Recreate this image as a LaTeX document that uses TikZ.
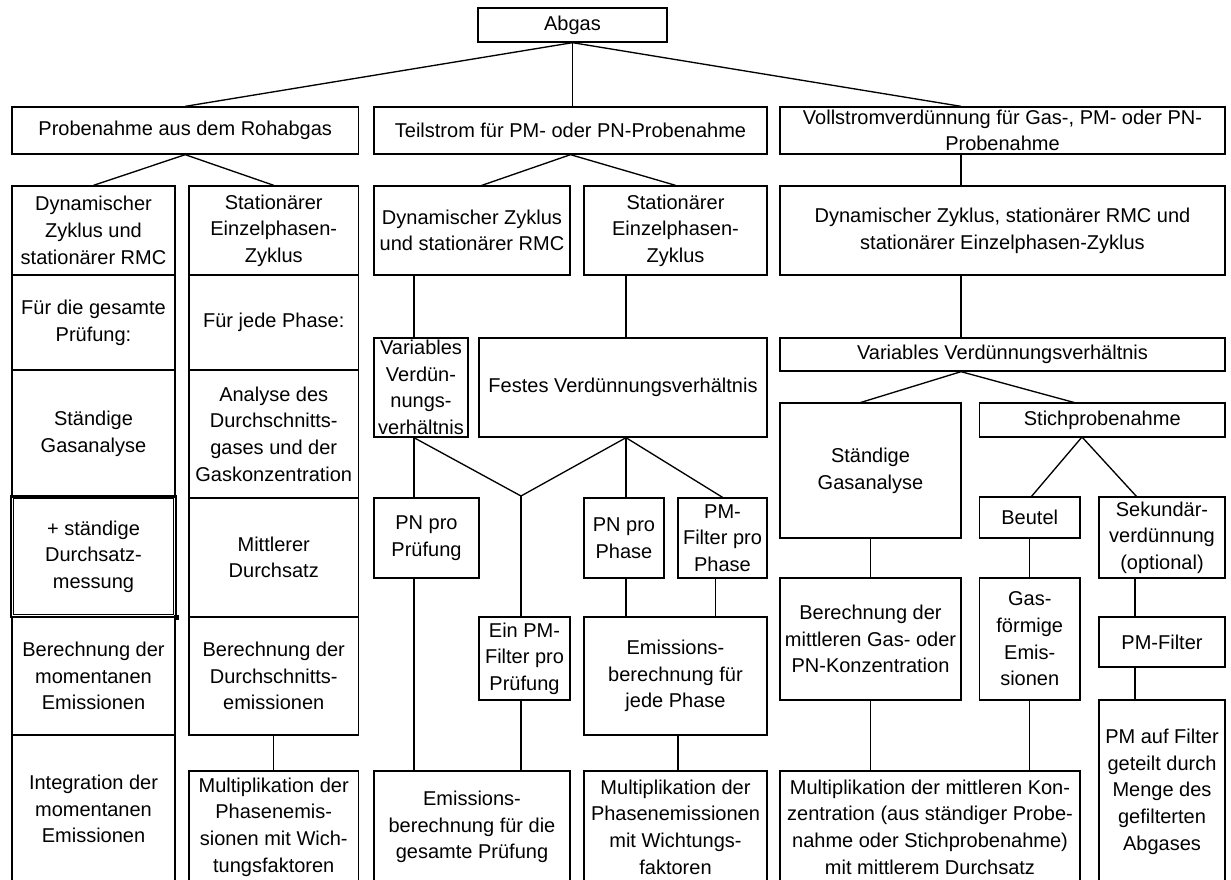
\documentclass[tikz,border=0pt]{standalone}
\usepackage{fontspec}
\setmainfont{Liberation Sans}
\tikzset{
  box/.style={draw, line width=1pt, inner sep=0pt, align=center, font=\fontsize{15pt}{20pt}\selectfont},
  conn/.style={line width=1pt}
}
\newcommand{\abox}[6]{%
  \pgfmathsetmacro{\abw}{(#4-#2)*0.75}%
  \pgfmathsetmacro{\abh}{(#5-#3)*0.75}%
  \node[box, minimum width=\abw pt, minimum height=\abh pt] (#1) at ({(#2+#4)/2},{(#3+#5)/2}) {#6};%
}
\begin{document}
\begin{tikzpicture}[x=0.75pt,y=-0.75pt]
\useasboundingbox (0,0) rectangle (1231,879);
\clip (0,0) rectangle (1231,879);
% top
\abox{abgas}{478}{8}{667}{42}{Abgas}
\abox{prob}{12}{107}{358.5}{154}{Probenahme aus dem Rohabgas}
\abox{teil}{374}{107}{767}{154}{Teilstrom für PM- oder PN-Probenahme}
\abox{voll}{780}{107}{1225}{154}{Vollstromverdünnung für Gas-, PM- oder PN-\\Probenahme}
% row 3
\abox{dyn1}{12}{186}{175}{275}{Dynamischer\\Zyklus und\\stationärer RMC}
\abox{stat1}{189}{186}{358.5}{275}{Stationärer\\Einzelphasen-\\Zyklus}
\abox{dyn2}{374}{186}{570}{275}{Dynamischer Zyklus\\und stationärer RMC}
\abox{stat2}{584}{186}{767}{275}{Stationärer\\Einzelphasen-\\Zyklus}
\abox{dyn3}{780}{186}{1225}{275}{Dynamischer Zyklus, stationärer RMC und\\stationärer Einzelphasen-Zyklus}
% column 1
\abox{c1a}{12}{275}{175}{370}{Für die gesamte\\Prüfung:}
\abox{c1b}{12}{370}{175}{497}{Ständige\\Gasanalyse}
\abox{c1c}{11}{496}{176}{617}{+ ständige\\Durchsatz-\\messung}
\abox{c1d}{12}{617}{175}{735}{Berechnung der\\momentanen\\Emissionen}
\abox{c1e}{12}{735}{175}{883}{Integration der\\momentanen\\Emissionen}
\draw[line width=0.8pt] ([shift={(3,3)}]c1c.north west) rectangle ([shift={(-3,-3)}]c1c.south east);
\fill ([shift={(-3,-3)}]c1c.south east) rectangle ([shift={(2,2)}]c1c.south east);
% column 2
\abox{c2a}{189}{275}{358.5}{370}{Für jede Phase:}
\abox{c2b}{189}{370}{358.5}{498}{Analyse des\\Durchschnitts-\\gases und der\\Gaskonzentration}
\abox{c2c}{189}{498}{358.5}{617}{Mittlerer\\Durchsatz}
\abox{c2d}{189}{617}{358.5}{735}{Berechnung der\\Durchschnitts-\\emissionen}
\abox{c2e}{189}{771}{358.5}{883}{Multiplikation der\\Phasenemis-\\sionen mit Wich-\\tungsfaktoren}
% middle
\abox{var}{374}{338}{468}{437}{Variables\\Verdün-\\nungs-\\verhältnis}
\abox{fest}{479}{338}{767}{437}{Festes Verdünnungsverhältnis}
\abox{pnpr}{374}{498}{479}{578}{PN pro\\Prüfung}
\abox{einpm}{479}{617}{570}{700}{Ein PM-\\Filter pro\\Prüfung}
\abox{emg}{374}{771}{570}{883}{Emissions-\\berechnung für die\\gesamte Prüfung}
\abox{pnph}{584}{498}{664}{578}{PN pro\\Phase}
\abox{pmph}{678}{498}{767}{578}{PM-\\Filter pro\\Phase}
\abox{emph}{584}{617}{767}{735}{Emissions-\\berechnung für\\jede Phase}
\abox{mph}{584}{771}{767}{883}{Multiplikation der\\Phasenemissionen\\mit Wichtungs-\\faktoren}
% right
\abox{var2}{780}{338}{1225}{371}{Variables Verdünnungsverhältnis}
\abox{staend2}{780}{403}{961}{538}{Ständige\\Gasanalyse}
\abox{stich}{979.5}{403}{1225}{437}{Stichprobenahme}
\abox{beutel}{979.5}{497}{1080}{538}{Beutel}
\abox{sek}{1099}{497}{1225}{578}{Sekundär-\\verdünnung\\(optional)}
\abox{ber}{780}{578}{961}{700}{Berechnung der\\mittleren Gas- oder\\PN-Konzentration}
\abox{gasf}{979.5}{578}{1080}{700}{Gas-\\förmige\\Emis-\\sionen}
\abox{pmf}{1099}{617}{1225}{667}{PM-Filter}
\abox{pmauf}{1099}{700}{1225}{883}{PM auf Filter\\geteilt durch\\Menge des\\gefilterten\\Abgases}
\abox{mul3}{780}{771}{1080}{883}{Multiplikation der mittleren Kon-\\zentration (aus ständiger Probe-\\nahme oder Stichprobenahme)\\mit mittlerem Durchsatz}
% helper coordinates
\coordinate (c3) at (961,0);
\coordinate (cV) at (414,0);
\coordinate (J) at (521,496);
\coordinate (cF) at (626,0);
\coordinate (cPM) at (715.5,0);
\coordinate (cM) at (678,0);
\coordinate (cK) at (1135,0);
\coordinate (tD2) at (480,186);
\coordinate (tS) at (859,403);
\coordinate (tT) at (1076,403);
\coordinate (bS) at (1082,437);
\coordinate (tB) at (1031,497);
\coordinate (tK) at (1137,497);
% connectors
\draw[conn] (abgas.south) -- (prob.north);
\draw[conn] (abgas.south) -- (abgas.south |- teil.north);
\draw[conn] (abgas.south) -- (c3 |- voll.north);
\draw[conn] (prob.south) -- (dyn1.north);
\draw[conn] (prob.south) -- (stat1.north);
\draw[conn] (teil.south) -- (tD2);
\draw[conn] (teil.south) -- (stat2.north);
\draw[conn] (c3 |- voll.south) -- (c3 |- dyn3.north);
\draw[conn] (c3 |- dyn3.south) -- (c3 |- var2.north);
\draw[conn] (cV |- dyn2.south) -- (cV |- var.north);
\draw[conn] (cV |- var.south) -- (cV |- pnpr.north);
\draw[conn] (cV |- pnpr.south) -- (cV |- emg.north);
\draw[conn] (cV |- var.south) -- (J) -- (cF |- fest.south);
\draw[conn] (J) -- (J |- einpm.north);
\draw[conn] (J |- einpm.south) -- (J |- emg.north);
\draw[conn] (cF |- stat2.south) -- (cF |- fest.north);
\draw[conn] (cF |- fest.south) -- (cF |- pnph.north);
\draw[conn] (cF |- fest.south) -- (pmph.north);
\draw[conn] (cF |- pnph.south) -- (cF |- emph.north);
\draw[conn] (cPM |- pmph.south) -- (cPM |- emph.north);
\draw[conn] (cM |- emph.south) -- (cM |- mph.north);
\draw[conn] (c2d.south) -- (c2e.north);
\draw[conn] (c3 |- var2.south) -- (tS);
\draw[conn] (c3 |- var2.south) -- (tT);
\draw[conn] (bS) -- (tB);
\draw[conn] (bS) -- (tK);
\draw[conn] (staend2.south) -- (ber.north);
\draw[conn] (ber.south) -- (ber.south |- mul3.north);
\draw[conn] (beutel.south) -- (gasf.north);
\draw[conn] (gasf.south) -- (gasf.south |- mul3.north);
\draw[conn] (cK |- sek.south) -- (cK |- pmf.north);
\draw[conn] (cK |- pmf.south) -- (cK |- pmauf.north);
\end{tikzpicture}
\end{document}
